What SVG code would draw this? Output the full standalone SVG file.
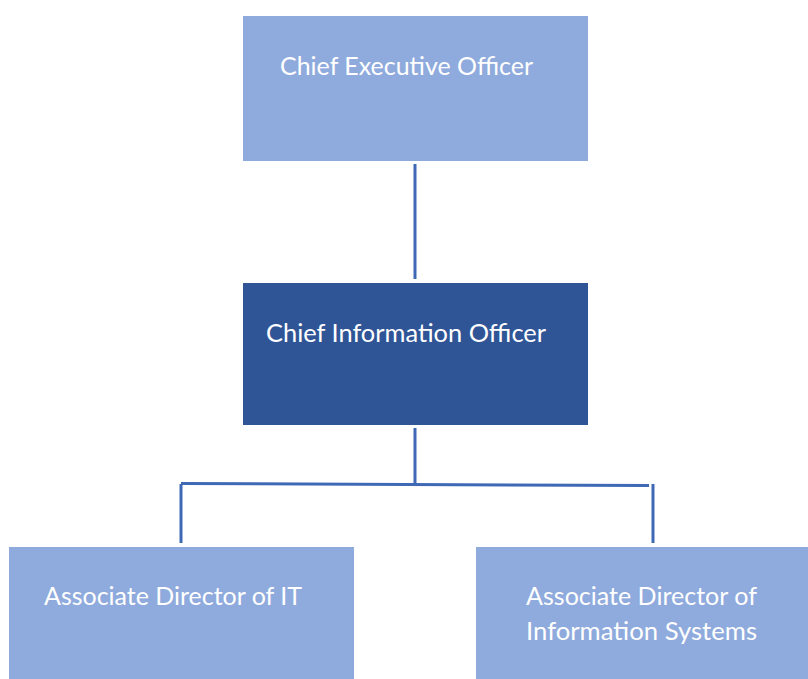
<svg xmlns="http://www.w3.org/2000/svg" width="808" height="679" viewBox="0 0 808 679">
  <style>
    .light { fill: #8FAADC; }
    .dark { fill: #2F5597; }
    .label { font-family: Lato, "Open Sans", "Liberation Sans", sans-serif; font-size: 25px; fill: #FFFFFF; }
    .conn { stroke: #3F69B5; stroke-width: 3; fill: none; }
  </style>
  <rect width="808" height="679" fill="#FFFFFF"/>

  <!-- reporting lines -->
  <g id="connectors">
    <line class="conn" x1="415" y1="164" x2="415" y2="279"/>
    <line class="conn" x1="415" y1="428" x2="415" y2="484"/>
    <line class="conn" x1="181" y1="483.5" x2="649" y2="485.5"/>
    <line class="conn" x1="181" y1="484" x2="181" y2="543"/>
    <line class="conn" x1="653" y1="484" x2="653" y2="543"/>
  </g>

  <g id="ceo">
    <rect class="light" x="243" y="16" width="345" height="145"/>
    <text class="label" x="280" y="75" textLength="253" lengthAdjust="spacingAndGlyphs">Chief Executive Officer</text>
  </g>

  <g id="cio">
    <rect class="dark" x="243" y="283" width="345" height="142"/>
    <text class="label" x="266" y="342" textLength="280" lengthAdjust="spacingAndGlyphs">Chief Information Officer</text>
  </g>

  <g id="assoc-it">
    <rect class="light" x="9" y="547" width="345" height="132"/>
    <text class="label" x="44" y="605" textLength="258" lengthAdjust="spacingAndGlyphs">Associate Director of IT</text>
  </g>

  <g id="assoc-is">
    <rect class="light" x="476" y="547" width="332" height="132"/>
    <text class="label" x="526" y="605" textLength="231" lengthAdjust="spacingAndGlyphs">Associate Director of</text>
    <text class="label" x="526" y="640" textLength="231" lengthAdjust="spacingAndGlyphs">Information Systems</text>
  </g>
</svg>
